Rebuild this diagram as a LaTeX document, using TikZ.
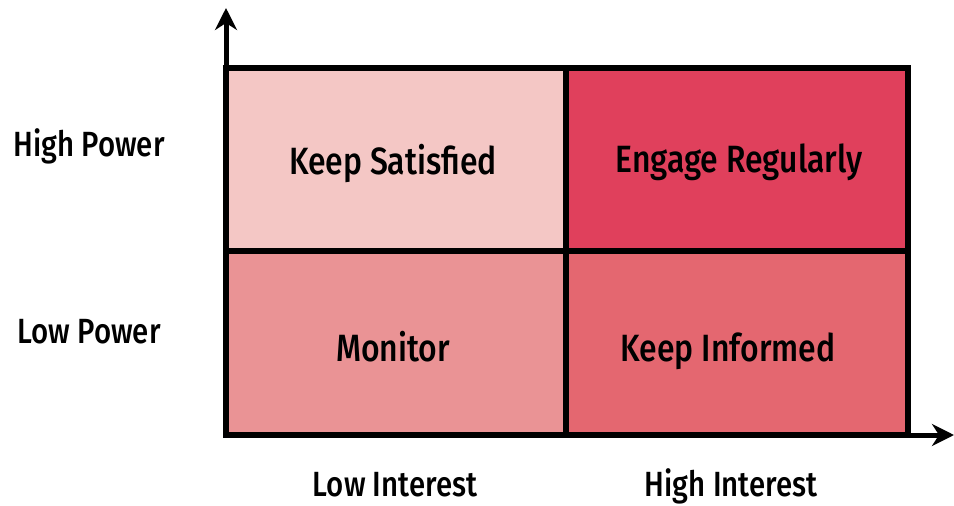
\documentclass[tikz,border=0pt]{standalone}
\usepackage{fontspec}
\setmainfont[FakeStretch=0.84,UprightFont={* Medium}]{Fira Sans}
\usetikzlibrary{arrows.meta}
\definecolor{satisfied}{RGB}{244,199,197}
\definecolor{engage}{RGB}{224,64,92}
\definecolor{monitor}{RGB}{234,147,149}
\definecolor{informed}{RGB}{228,103,112}
\begin{document}
\begin{tikzpicture}[x=1pt,y=-1pt,line width=6pt,
	cell/.style={draw=black,line width=6pt},
	cell text/.style={anchor=base,inner sep=0pt,font=\fontsize{38}{44}\selectfont},
	axis text/.style={anchor=base,inner sep=0pt,font=\fontsize{35}{40}\selectfont},
	axis/.style={line width=5pt,-{Stealth[length=22pt,width=22pt,inset=7pt]}}]
		\useasboundingbox (0,0) rectangle (954,506);
		\fill[satisfied] (226,68) rectangle (566,251);
		\fill[engage] (566,68) rectangle (908,251);
		\fill[monitor] (226,251) rectangle (566,435);
		\fill[informed] (566,251) rectangle (908,435);
		\draw[cell] (226,68) rectangle (908,435);
		\draw[cell] (566,68) -- (566,435);
		\draw[cell] (226,251) -- (908,251);
		\coordinate (origin) at (226,435);
		\coordinate (ytop) at (226,8);
		\coordinate (xend) at (954,435);
		\draw[axis] (origin) -- (ytop);
		\draw[axis] (origin) -- (xend);
		\node[cell text] (ks) at (393,174) {Keep Satisfied};
		\node[cell text] (er) at (739,172) {Engage Regularly};
		\node[cell text] (mo) at (393,361) {Monitor};
		\node[cell text] (ki) at (728,361) {Keep Informed};
		\node[axis text] (hp) at (89,156) {High Power};
		\node[axis text] (lp) at (89,343) {Low Power};
		\node[axis text] (li) at (395,496) {Low Interest};
		\node[axis text] (hi) at (731,496) {High Interest};
\end{tikzpicture}
\end{document}
